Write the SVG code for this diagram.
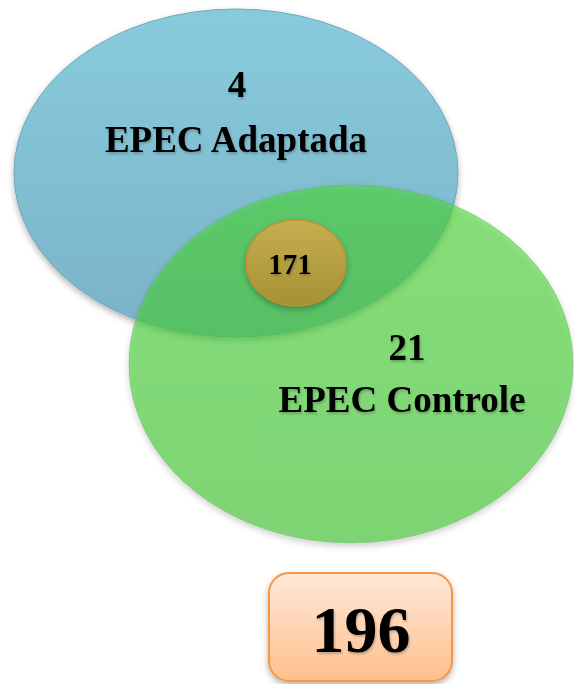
<svg xmlns="http://www.w3.org/2000/svg" width="574" height="684" viewBox="0 0 574 684">
<defs>
<linearGradient id="gBlue" x1="0" y1="0" x2="0" y2="1">
<stop offset="0" stop-color="#88CBDC"/>
<stop offset="1" stop-color="#7AB3C7"/>
</linearGradient>
<linearGradient id="gGreen" x1="0" y1="0" x2="0" y2="1">
<stop offset="0" stop-color="#4ED83A" stop-opacity="0.6"/>
<stop offset="1" stop-color="#42C832" stop-opacity="0.6"/>
</linearGradient>
<linearGradient id="gGold" x1="0" y1="0" x2="0" y2="1">
<stop offset="0" stop-color="#C6AE50"/>
<stop offset="1" stop-color="#A49234"/>
</linearGradient>
<linearGradient id="gBox" x1="0" y1="0" x2="0" y2="1">
<stop offset="0" stop-color="#FFE9DA"/>
<stop offset="1" stop-color="#FFC08C"/>
</linearGradient>
<filter id="shadow" x="-10%" y="-10%" width="120%" height="125%">
<feDropShadow dx="0" dy="3" stdDeviation="3" flood-color="#000" flood-opacity="0.3"/>
</filter>
<filter id="tshadow" x="-10%" y="-20%" width="120%" height="150%">
<feDropShadow dx="1" dy="2" stdDeviation="1.2" flood-color="#000" flood-opacity="0.22"/>
</filter>
</defs>
<style>
.lbl{font-family:"Liberation Serif","Times New Roman",serif;font-weight:bold;fill:#000;text-anchor:middle;filter:url(#tshadow)}
.big{font-size:37px}
.mid{font-size:29px}
.huge{font-size:66px}
</style>
<g id="set-adaptada">
<ellipse cx="236" cy="173" rx="222" ry="164" fill="url(#gBlue)" stroke="#6FA6BA" stroke-width="1" filter="url(#shadow)"/>
</g>
<g id="set-controle">
<ellipse cx="351" cy="364" rx="222" ry="179" fill="url(#gGreen)" stroke="#5FB85A" stroke-opacity="0.5" stroke-width="1" filter="url(#shadow)"/>
</g>
<g id="label-adaptada">
<text class="lbl big" x="237" y="97">4</text>
<text class="lbl big" x="236" y="152">EPEC Adaptada</text>
</g>
<g id="label-controle">
<text class="lbl big" x="407" y="360">21</text>
<text class="lbl big" x="402" y="412">EPEC Controle</text>
</g>
<g id="intersection">
<ellipse cx="296" cy="263" rx="50" ry="43" fill="url(#gGold)" stroke="#D08A2A" stroke-width="1.2" filter="url(#shadow)"/>
<text class="lbl mid" x="290" y="274">171</text>
</g>
<g id="total">
<rect x="269" y="573" width="183" height="108" rx="20" ry="20" fill="url(#gBox)" stroke="#F79646" stroke-width="2" filter="url(#shadow)"/>
<text class="lbl huge" x="361" y="652">196</text>
</g>
<g id="connectors"/>
</svg>
